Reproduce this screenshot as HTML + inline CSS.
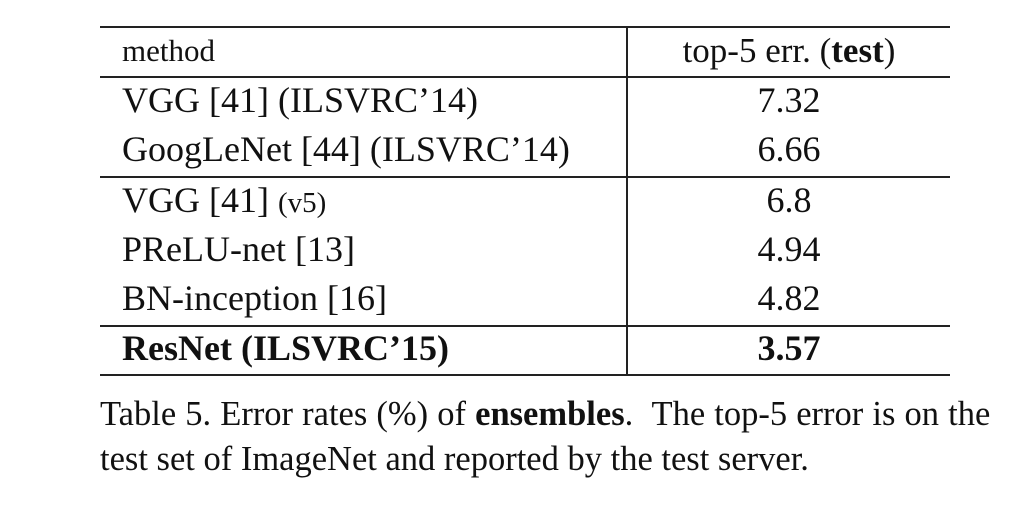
<!DOCTYPE html>
<html><head><meta charset="utf-8"><style>
body{margin:0;background:#fff;width:1036px;height:506px;overflow:hidden;position:relative;font-family:"Liberation Serif",serif;color:#111}
.hl{position:absolute;left:100px;width:850px;height:2px;background:#222}
.vl{position:absolute;left:626px;top:27px;width:2px;height:349px;background:#222}
.t{position:absolute;white-space:nowrap;font-size:36px;line-height:40px}
.v{position:absolute;left:628px;width:322px;text-align:center;font-size:36px;line-height:40px}
.cap{position:absolute;left:100px;font-size:34.5px;line-height:44px;white-space:nowrap}
</style></head><body>
<div class="hl" style="top:26px"></div>
<div class="hl" style="top:76px"></div>
<div class="hl" style="top:176px"></div>
<div class="hl" style="top:325px"></div>
<div class="hl" style="top:374px"></div>
<div class="vl"></div>

<div class="t" style="left:122px;top:31px;font-size:31px">method</div>
<div class="v" style="top:31px;font-size:35px">top-5 err. (<b>test</b>)</div>

<div class="t" style="left:122px;top:80px">VGG [41] (ILSVRC’14)</div>
<div class="v" style="top:80px">7.32</div>
<div class="t" style="left:122px;top:129px">GoogLeNet [44] (ILSVRC’14)</div>
<div class="v" style="top:129px">6.66</div>

<div class="t" style="left:122px;top:180px">VGG [41] <span style="font-size:29px">(v5)</span></div>
<div class="v" style="top:180px">6.8</div>
<div class="t" style="left:122px;top:229px">PReLU-net [13]</div>
<div class="v" style="top:229px">4.94</div>
<div class="t" style="left:122px;top:278px">BN-inception [16]</div>
<div class="v" style="top:278px">4.82</div>

<div class="t" style="left:122px;top:328px;font-weight:bold">ResNet (ILSVRC’15)</div>
<div class="v" style="top:328px;font-weight:bold">3.57</div>

<div class="cap" style="top:392px;word-spacing:0.5px">Table 5. Error rates (%) of <b>ensembles</b>. &nbsp;The top-5 error is on the</div>
<div class="cap" style="top:437px">test set of ImageNet and reported by the test server.</div>
</body></html>
